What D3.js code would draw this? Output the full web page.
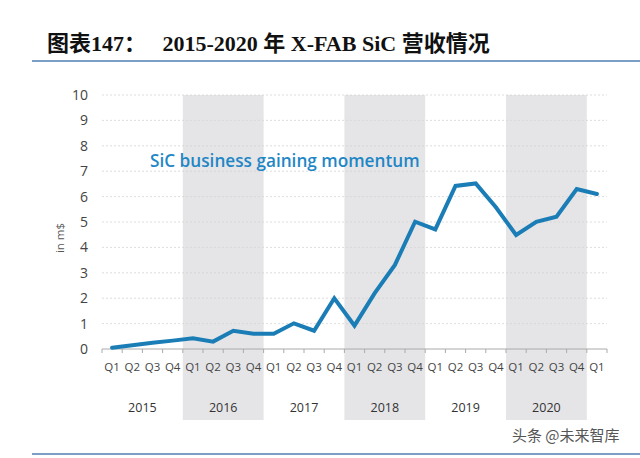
<!DOCTYPE html>
<html><head><meta charset="utf-8">
<script src="https://cdn.jsdelivr.net/npm/d3@7"></script>
<style>body{margin:0;background:#fff;} svg{display:block;}</style>
</head><body>
<script>
const years = ["2015","2016","2017","2018","2019","2020"];
const shadedYears = ["2016","2018","2020"];
const quarters = ["Q1","Q2","Q3","Q4"];
const categories = [];
years.forEach(y => quarters.forEach(q => categories.push(y + " " + q)));
categories.push("2021 Q1");
const revenue = [0.05,0.15,0.25,0.33,0.42, 0.29,0.72,0.6,0.6, 1.01,0.72,2.0,0.92, 2.2,3.31,5.01,4.71, 6.42,6.52,5.58,4.49, 5.01,5.21,6.3,6.1];
const yTicks = [0,1,2,3,4,5,6,7,8,9,10];

const W = 640, H = 458;
const svg = d3.select("body").append("svg").attr("width", W).attr("height", H);

// title
svg.append("text").attr("x", 47).attr("y", 51)
  .attr("font-family", "'Liberation Serif','Noto Sans CJK SC',serif")
  .attr("font-weight", "bold").attr("font-size", 22).attr("fill", "#111")
  .text("图表147：\u00a0\u00a0 2015-2020 年 X-FAB SiC 营收情况");
svg.append("line").attr("x1", 32).attr("x2", 640).attr("y1", 61).attr("y2", 61)
  .attr("stroke", "#4f7fb3").attr("stroke-width", 1.5);
svg.append("line").attr("x1", 32).attr("x2", 640).attr("y1", 454).attr("y2", 454)
  .attr("stroke", "#4f7fb3").attr("stroke-width", 1.5);

const x = d3.scaleBand().domain(categories).range([102, 607]);
const y = d3.scaleLinear().domain([0, 10]).range([349, 95]);

// shaded year bands
shadedYears.forEach(yr => {
  const x0 = x(yr + " Q1"), x1 = x(yr + " Q4") + x.bandwidth();
  svg.append("rect").attr("x", x0).attr("y", y(10)).attr("width", x1 - x0)
    .attr("height", 420 - y(10)).attr("fill", "#e5e5e7");
});

// gridlines
svg.append("g").selectAll("line").data(yTicks.filter(d => d > 0)).join("line")
  .attr("x1", 102).attr("x2", 607).attr("y1", d => y(d)).attr("y2", d => y(d))
  .attr("stroke", "#d4d4d4").attr("stroke-width", 0.8).attr("stroke-dasharray", "2,2");

// y tick labels
svg.append("g").selectAll("text").data(yTicks).join("text")
  .attr("x", 88).attr("y", d => y(d) + 5).attr("text-anchor", "end")
  .attr("font-family", "'Open Sans',sans-serif").attr("font-size", 14).attr("fill", "#444")
  .text(d => d);

svg.append("text").attr("transform", "translate(64,238) rotate(-90)")
  .attr("text-anchor", "middle").attr("font-family", "'Open Sans',sans-serif")
  .attr("font-size", 11.5).attr("fill", "#555").text("in m$");

// x axis
svg.append("line").attr("x1", 102).attr("x2", 607).attr("y1", y(0)).attr("y2", y(0))
  .attr("stroke", "#aaa").attr("stroke-width", 1);
const tickXs = categories.map(c => x(c)).concat([x(categories[categories.length - 1]) + x.bandwidth()]);
svg.append("g").selectAll("line").data(tickXs).join("line")
  .attr("x1", d => d).attr("x2", d => d).attr("y1", y(0)).attr("y2", y(0) + 4)
  .attr("stroke", "#aaa").attr("stroke-width", 1);

svg.append("g").selectAll("text").data(categories).join("text")
  .attr("x", d => x(d) + x.bandwidth() / 2).attr("y", 371).attr("text-anchor", "middle")
  .attr("font-family", "'Open Sans',sans-serif").attr("font-size", 11.5).attr("fill", "#444")
  .text(d => d.split(" ")[1]);

svg.append("g").selectAll("text").data(years).join("text")
  .attr("x", d => (x(d + " Q1") + x(d + " Q4") + x.bandwidth()) / 2).attr("y", 412)
  .attr("text-anchor", "middle").attr("font-family", "'Open Sans',sans-serif")
  .attr("font-size", 12.5).attr("fill", "#333").text(d => d);

// line
const line = d3.line().x((d, i) => x(categories[i]) + x.bandwidth() / 2).y(d => y(d));
svg.append("path").datum(revenue).attr("d", line).attr("fill", "none")
  .attr("stroke", "#1b7db6").attr("stroke-width", 4).attr("stroke-linejoin", "miter")
  .attr("stroke-linecap", "round");

// annotation
svg.append("text").attr("x", 150).attr("y", 167)
  .attr("font-family", "'Open Sans',sans-serif").attr("font-weight", 600)
  .attr("font-size", 17.2).attr("fill", "#1f86c6").text("SiC business gaining momentum");

// watermark
svg.append("text").attr("x", 512).attr("y", 441)
  .attr("font-family", "'Noto Sans CJK SC',sans-serif").attr("font-size", 15).attr("fill", "#555")
  .text("头条 @未来智库");
</script>
</body></html>
